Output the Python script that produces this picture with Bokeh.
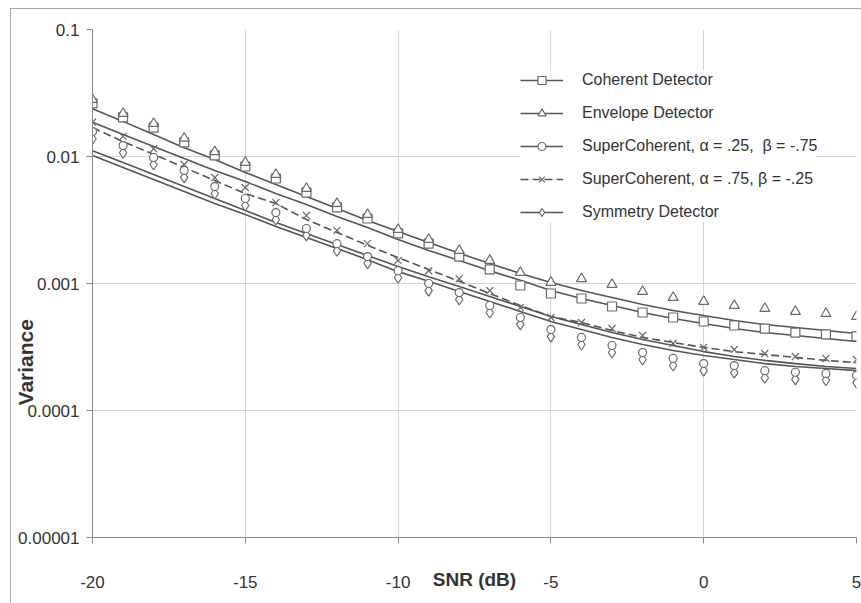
from bokeh.plotting import figure
from bokeh.models import Range1d, FixedTicker, CustomJSTickFormatter, Legend, LegendItem, InlineStyleSheet
from bokeh.embed import file_html
from bokeh.resources import INLINE

snr = list(range(-20, 6))

# simulated (markers)
coherent_sim = [0.0262, 0.0203, 0.0169, 0.0129, 0.0102, 0.00834, 0.00671, 0.00520, 0.00397, 0.00325,
                0.00248, 0.00206, 0.00163, 0.00129, 0.000964, 0.000834, 0.000762, 0.000659, 0.000591,
                0.000540, 0.000502, 0.000467, 0.000442, 0.000411, 0.000397, 0.000383]
envelope_sim = [0.0281, 0.0218, 0.0182, 0.0139, 0.0109, 0.00897, 0.00722, 0.00559, 0.00426, 0.00349,
                0.00266, 0.00222, 0.00182, 0.00152, 0.00122, 0.00102, 0.00109, 0.000982, 0.000865,
                0.000776, 0.000722, 0.000671, 0.000635, 0.000602, 0.000580, 0.000549]
sc25_sim = [0.0157, 0.0122, 0.00982, 0.00776, 0.00580, 0.00467, 0.00362, 0.00271, 0.00206, 0.00163,
            0.00126, 0.00100, 0.000849, 0.000671, 0.000540, 0.000434, 0.000376, 0.000325, 0.000286,
            0.000257, 0.000234, 0.000226, 0.000206, 0.000200, 0.000196, 0.000189]
sc75_sim = [0.0186, 0.0144, 0.0115, 0.00865, 0.00683, 0.00570, 0.00434, 0.00343, 0.00262, 0.00206,
            0.00152, 0.00126, 0.00109, 0.00088, 0.000647, 0.000540, 0.000493, 0.000442, 0.000389,
            0.000337, 0.000314, 0.000302, 0.000281, 0.000266, 0.000257, 0.000252]
sym_sim = [0.0138, 0.0107, 0.00865, 0.00684, 0.00511, 0.00411, 0.00319, 0.00239, 0.00181, 0.00144,
           0.00111, 0.00088, 0.000748, 0.000591, 0.000476, 0.000382, 0.000331, 0.000286, 0.000252,
           0.000226, 0.000206, 0.000199, 0.000181, 0.000176, 0.000173, 0.000166]

# theoretical (lines)
coherent_th = [0.0238, 0.0189, 0.0149, 0.0117, 0.00947, 0.00748, 0.00602, 0.00484, 0.00389, 0.00314,
               0.00257, 0.00210, 0.00173, 0.00144, 0.00120, 0.00102, 0.000880, 0.000776, 0.000683,
               0.000612, 0.000559, 0.000511, 0.000475, 0.000450, 0.000426, 0.000404]
envelope_th = [0.0186, 0.0149, 0.0120, 0.00964, 0.00776, 0.00635, 0.00511, 0.00419, 0.00337, 0.00276,
               0.00222, 0.00182, 0.00152, 0.00126, 0.00106, 0.000880, 0.000762, 0.000671, 0.000591,
               0.000530, 0.000484, 0.000442, 0.000411, 0.000389, 0.000369, 0.000349]
sc75_th = [0.0169, 0.0131, 0.0104, 0.00819, 0.00647, 0.00511, 0.00426, 0.00319, 0.00252, 0.00200,
           0.00160, 0.00129, 0.00104, 0.000834, 0.000671, 0.000549, 0.000493, 0.000426, 0.000376,
           0.000343, 0.000314, 0.000291, 0.000276, 0.000262, 0.000248, 0.000238]
sc25_th = [0.0111, 0.00897, 0.00722, 0.00580, 0.00467, 0.00376, 0.00302, 0.00248, 0.00203, 0.00166,
           0.00136, 0.00113, 0.000947, 0.000790, 0.000659, 0.000549, 0.000475, 0.000411, 0.000362,
           0.000325, 0.000291, 0.000266, 0.000248, 0.000234, 0.000222, 0.000214]
sym_th = [0.0102, 0.00819, 0.00659, 0.00530, 0.00426, 0.00349, 0.00281, 0.00230, 0.00189, 0.00154,
          0.00124, 0.00104, 0.000865, 0.000722, 0.000602, 0.000502, 0.000434, 0.000376, 0.000331,
          0.000297, 0.000271, 0.000252, 0.000234, 0.000222, 0.000214, 0.000206]

labels = ["Coherent Detector", "Envelope Detector",
          "SuperCoherent, \u03b1 = .25,  \u03b2 = -.75",
          "SuperCoherent, \u03b1 = .75, \u03b2 = -.25",
          "Symmetry Detector"]
x_ticks = [-20, -15, -10, -5, 0, 5]
y_ticks = [0.00001, 0.0001, 0.001, 0.01, 0.1]
x_title = "SNR (dB)"
y_title = "Variance"

FONT = "Liberation Sans"
TXT = "#333333"
LINE = "#555555"
MARK = "#6a6a6a"

p = figure(width=861, height=603, output_backend="svg", toolbar_location=None,
           y_axis_type="log", x_range=Range1d(-20, 5), y_range=Range1d(0.00001, 0.1),
           min_border_left=92, min_border_top=29, min_border_right=5, min_border_bottom=66)
p.outline_line_color = None
p.background_fill_color = "white"
p.border_fill_color = "white"
p.stylesheets = [InlineStyleSheet(css=":host::after { content: ''; position: absolute; left: 10px; top: 8px; "
                                      "right: 0px; bottom: 0px; border-left: 1px solid #a8a8a8; "
                                      "border-top: 1px solid #a8a8a8; pointer-events: none; }")]

p.xgrid.ticker = FixedTicker(ticks=x_ticks)
p.ygrid.ticker = FixedTicker(ticks=y_ticks)
p.grid.grid_line_color = "#d4d4d4"
p.grid.grid_line_width = 1

p.xaxis.ticker = FixedTicker(ticks=x_ticks)
p.xaxis.formatter = CustomJSTickFormatter(code="return String(tick);")
p.yaxis.ticker = FixedTicker(ticks=y_ticks)
p.yaxis.formatter = CustomJSTickFormatter(code="return Number(tick.toPrecision(1)).toString();")
for ax in (p.xaxis[0], p.yaxis[0]):
    ax.axis_line_color = "#8a8a8a"
    ax.major_tick_line_color = "#8a8a8a"
    ax.minor_tick_line_color = None
    ax.major_tick_in = 0
    ax.major_tick_out = 6
    ax.major_label_text_font = FONT
    ax.major_label_text_font_size = "17px"
    ax.major_label_text_color = TXT
    ax.axis_label_text_font = FONT
    ax.axis_label_text_font_style = "bold"
    ax.axis_label_text_color = TXT
p.xaxis.major_label_standoff = 32
p.yaxis.major_label_standoff = 7

# x title sits in the tick-label row; y title sits low (pushed down with trailing no-break spaces)
p.xaxis.axis_label = x_title
p.xaxis.axis_label_text_font_size = "19px"
p.xaxis.axis_label_standoff = -22
p.yaxis.axis_label = y_title + "\u00a0" * 27
p.yaxis.axis_label_text_font_size = "21px"
p.yaxis.axis_label_standoff = -22

lw = 1.6
r1 = p.line(snr, coherent_th, line_color=LINE, line_width=lw)
r2 = p.line(snr, envelope_th, line_color=LINE, line_width=lw)
r3 = p.line(snr, sc25_th, line_color=LINE, line_width=lw)
r4 = p.line(snr, sc75_th, line_color=LINE, line_width=lw, line_dash="8 4")
r5 = p.line(snr, sym_th, line_color=LINE, line_width=lw)

s5 = p.scatter(snr, sym_sim, marker="diamond", size=11, line_color=MARK, fill_color="white", line_width=1.2)
s3 = p.scatter(snr, sc25_sim, marker="circle", size=8, line_color=MARK, fill_color="white", line_width=1.2)
s4 = p.scatter(snr, sc75_sim, marker="x", size=10, line_color=MARK, line_width=1.2)
s1 = p.scatter(snr, coherent_sim, marker="square", size=9, line_color=MARK, fill_color="white", line_width=1.2)
s2 = p.scatter(snr, envelope_sim, marker="triangle", size=10, line_color=MARK, fill_color="white", line_width=1.2)

legend = Legend(items=[
    LegendItem(label=labels[0], renderers=[r1, s1]),
    LegendItem(label=labels[1], renderers=[r2, s2]),
    LegendItem(label=labels[2], renderers=[r3, s3]),
    LegendItem(label=labels[3], renderers=[r4, s4]),
    LegendItem(label=labels[4], renderers=[r5, s5]),
], location=(428, 315))
legend.border_line_color = None
legend.background_fill_color = "white"
legend.background_fill_alpha = 1.0
legend.padding = 17
legend.margin = 0
legend.spacing = 13
legend.glyph_width = 43
legend.glyph_height = 20
legend.label_height = 20
legend.label_standoff = 19
legend.label_text_font = FONT
legend.label_text_font_size = "16px"
legend.label_text_color = TXT
p.add_layout(legend)

open("out.html", "w").write(file_html(p, INLINE))
